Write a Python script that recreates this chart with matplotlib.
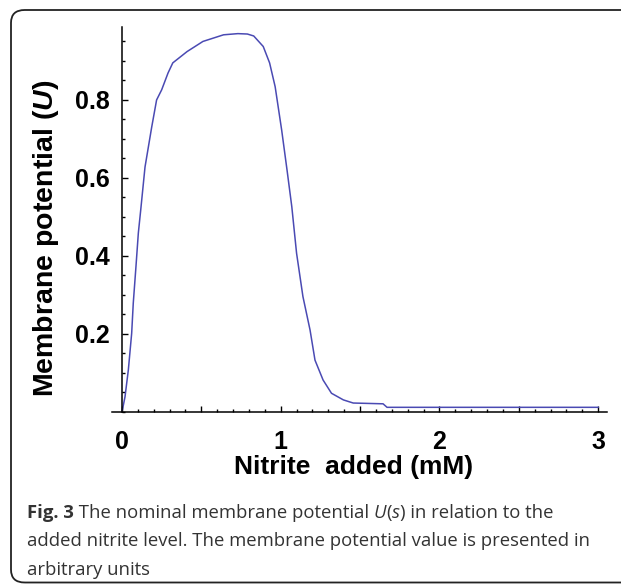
import matplotlib
matplotlib.use('Agg')
import matplotlib.pyplot as plt
from matplotlib.patches import FancyBboxPatch
from matplotlib.ticker import MultipleLocator, FuncFormatter

plt.rcParams['mathtext.fontset'] = 'custom'
plt.rcParams['mathtext.bfit'] = 'Liberation Sans:italic:bold'

# nitrite added (mM) vs membrane potential U (arbitrary units)
nitrite = [0, 0.019, 0.04, 0.061, 0.071, 0.088, 0.103, 0.118, 0.145, 0.187, 0.218,
           0.25, 0.29, 0.32, 0.41, 0.51, 0.64, 0.73, 0.79, 0.83, 0.89, 0.93, 0.965,
           1.006, 1.04, 1.07, 1.10, 1.14, 1.185, 1.216, 1.267, 1.32, 1.395, 1.457,
           1.645, 1.67, 3.0]
potential = [0.0, 0.039, 0.108, 0.202, 0.279, 0.373, 0.459, 0.518, 0.628, 0.73, 0.80,
             0.826, 0.869, 0.895, 0.924, 0.95, 0.967, 0.970, 0.969, 0.964, 0.937, 0.895,
             0.834, 0.723, 0.62, 0.526, 0.407, 0.296, 0.21, 0.133, 0.082, 0.048, 0.031,
             0.023, 0.021, 0.012, 0.012]

y_ticks = [0.2, 0.4, 0.6, 0.8]

# caption lines as (text, style) pieces
caption = [
    [('Fig. 3', 'bold'), (' The nominal membrane potential ', 'normal'), ('U', 'italic'),
     ('(', 'normal'), ('s', 'italic'), (') in relation to the', 'normal')],
    [('added nitrite level. The membrane potential value is presented in', 'normal')],
    [('arbitrary units', 'normal')],
]

W, H = 621, 584
fig = plt.figure(figsize=(W / 100, H / 100), dpi=100)

# rounded frame around the figure (open to the right)
frame = FancyBboxPatch((11 / W, 1.5 / H), 640 / W, 572.5 / H,
                       boxstyle='round,pad=0,rounding_size=0.022',
                       transform=fig.transFigure, fill=False,
                       edgecolor='#222222', linewidth=1.3)
fig.patches.append(frame)

ax = fig.add_axes([112 / W, 1 - 412 / H, 495 / W, 385 / H])
ax.plot(nitrite, potential, color='#4a4ab3', linewidth=1.1)

ax.set_xlim(-0.063, 3.056)
ax.set_ylim(0, 0.987)
ax.spines['top'].set_visible(False)
ax.spines['right'].set_visible(False)
ax.spines['left'].set_position(('data', 0))
for s in ('left', 'bottom'):
    ax.spines[s].set_linewidth(1.1)

ax.xaxis.set_major_locator(MultipleLocator(0.5))
ax.xaxis.set_minor_locator(MultipleLocator(0.1))
ax.xaxis.set_major_formatter(FuncFormatter(lambda v, p: '%d' % round(v) if abs(v - round(v)) < 1e-6 else ''))
ax.set_yticks(y_ticks)
ax.set_yticklabels(['%.1f' % v for v in y_ticks])
ax.yaxis.set_minor_locator(MultipleLocator(0.05))

ax.tick_params(which='both', direction='in', width=1)
ax.tick_params(which='major', length=4.5)
ax.tick_params(which='minor', length=2.2)
ax.tick_params(axis='x', which='major', pad=13)
ax.tick_params(axis='y', which='major', pad=9)
for lab in ax.get_xticklabels() + ax.get_yticklabels():
    lab.set_fontfamily('Liberation Sans')
    lab.set_fontweight('bold')
    lab.set_fontsize(18)

fig.text(354 / W, 1 - 467 / H, 'Nitrite  added (mM)', ha='center', va='center',
         family='Liberation Sans', weight='bold', fontsize=19)
fig.text(46 / W, 1 - 238 / H, r'Membrane potential ($\mathbfit{U}$)', ha='center', va='center',
         rotation=90, family='Liberation Sans', weight='bold', fontsize=20.5)

renderer = fig.canvas.get_renderer()
for i, pieces in enumerate(caption):
    x = 27
    y = 1 - (513 + 28.5 * i) / H
    for txt, style in pieces:
        t = fig.text(x / W, y, txt, ha='left', va='center', family='Open Sans',
                     fontsize=13.3, color='#333333',
                     weight='bold' if style == 'bold' else 'normal',
                     style='italic' if style == 'italic' else 'normal')
        x += t.get_window_extent(renderer).width

fig.savefig('out.png', dpi=100)
